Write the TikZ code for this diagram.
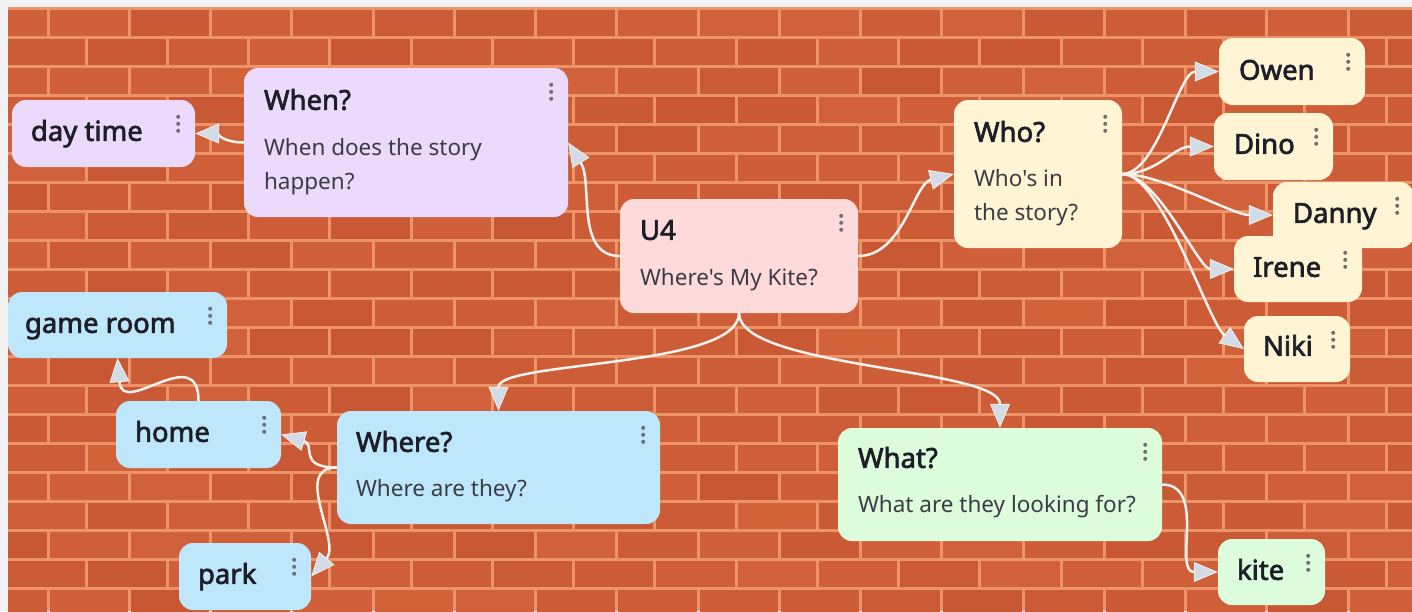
\documentclass[tikz,border=0pt]{standalone}
\usepackage{fontspec}
\setmainfont{Noto Sans}[AutoFakeBold=2.4,Ligatures=TeXOff]
\usetikzlibrary{calc,arrows.meta}

\definecolor{wallgray}{HTML}{F2F2F2}
\definecolor{mortar}{HTML}{EC9468}
\definecolor{brickA}{HTML}{D3643C}
\definecolor{brickB}{HTML}{BD4E2C}
\definecolor{lav}{HTML}{EBDAFC}
\definecolor{rose}{HTML}{FFDADA}
\definecolor{cream}{HTML}{FFF4D4}
\definecolor{sky}{HTML}{BEE7FB}
\definecolor{mint}{HTML}{DCFCDC}
\definecolor{linkcol}{HTML}{F4F1EE}
\definecolor{tipfill}{HTML}{D3DCE6}
\definecolor{ink}{HTML}{1E1E28}
\definecolor{inkgray}{HTML}{3C3C46}
\definecolor{dotcol}{HTML}{6E6E78}

\tikzset{
  card/.style={rectangle,rounded corners=14pt,inner sep=0pt},
  ttl/.style={anchor=base west,inner sep=0pt,text=ink,font=\bfseries\fontsize{27.5}{32}\selectfont},
  leaf/.style={anchor=base west,inner sep=0pt,text=ink,font=\bfseries\fontsize{27.5}{32}\selectfont},
  txt/.style={anchor=base west,inner sep=0pt,text=inkgray,font=\fontsize{22.5}{27}\selectfont},
  link/.style={draw=linkcol,line width=2.5pt,-{Triangle[length=24pt,width=20pt,fill=tipfill,line width=0.8pt]}}
}

% three dots in the top right corner of a card
\newcommand{\kebabdots}[1]{\foreach \d in {-7,0,7} \fill[dotcol] ($(#1.north east)+(-17,{24+\d})$) circle (2pt);}

\begin{document}
\begin{tikzpicture}[x=1pt,y=-1pt]
  \useasboundingbox (0,0) rectangle (1412,611);
  \fill[wallgray] (0,0) rectangle (1412,611);

  % brick wall
  \begin{scope}
    \clip (8,7) rectangle (1412,611);
    \fill[mortar] (8,7) rectangle (1412,611);
    \pgfmathsetseed{4}
    \foreach \r in {0,...,20}{
      \pgfmathsetmacro\off{ifthenelse(mod(\r,2)==0,48,86)}
      \foreach \m in {-1,...,17}{
        \pgfmathsetmacro\shade{int(45+45*rnd)}
        \fill[brickA!\shade!brickB] ({\off+81.25*\m+1.5},{8+29*\r+1.5}) rectangle ({\off+81.25*(\m+1)-1.5},{8+29*(\r+1)-1.5});
      }
    }
  \end{scope}

  % cards
  \node[card,fill=rose,minimum width=238pt,minimum height=114pt] (u4) at (739,256) {};
  \node[ttl] (u4T) at ($(u4.north west)+(20,41)$) {U4};
  \node[txt] (u4B) at ($(u4.north west)+(20,87)$) {Where's My Kite?};

  \node[card,fill=lav,minimum width=324pt,minimum height=149pt] (when) at (406,142.5) {};
  \node[ttl] (whenT) at ($(when.north west)+(20,42)$) {When?};
  \node[txt] (whenB1) at ($(when.north west)+(20,88)$) {When does the story};
  \node[txt] (whenB2) at ($(when.north west)+(20,122)$) {happen?};

  \node[card,fill=lav,minimum width=183pt,minimum height=67pt] (day) at (103.5,133.5) {};
  \node[leaf] (dayT) at ($(day.north west)+(19,41)$) {day time};

  \node[card,fill=cream,minimum width=168pt,minimum height=148pt] (who) at (1038,174) {};
  \node[ttl] (whoT) at ($(who.north west)+(20,42)$) {Who?};
  \node[txt] (whoB1) at ($(who.north west)+(20,87)$) {Who's in};
  \node[txt] (whoB2) at ($(who.north west)+(20,121)$) {the story?};

  \node[card,fill=cream,minimum width=146pt,minimum height=67pt] (owen) at (1292,71.5) {};
  \node[leaf] (owenT) at ($(owen.north west)+(20,42)$) {Owen};
  \node[card,fill=cream,minimum width=119pt,minimum height=67pt] (dino) at (1273.5,146.5) {};
  \node[leaf] (dinoT) at ($(dino.north west)+(20,41)$) {Dino};
  \node[card,fill=cream,minimum width=128pt,minimum height=66pt] (irene) at (1298,269) {};
  \node[leaf] (ireneT) at ($(irene.north west)+(19,41)$) {Irene};
  \node[card,fill=cream,minimum width=141pt,minimum height=66pt] (danny) at (1343.5,215) {};
  \node[leaf] (dannyT) at ($(danny.north west)+(20,41)$) {Danny};
  \node[card,fill=cream,minimum width=106pt,minimum height=66pt] (niki) at (1297,349) {};
  \node[leaf] (nikiT) at ($(niki.north west)+(19,40)$) {Niki};

  \node[card,fill=sky,minimum width=323pt,minimum height=113pt] (where) at (498.5,467.5) {};
  \node[ttl] (whereT) at ($(where.north west)+(19,41)$) {Where?};
  \node[txt] (whereB) at ($(where.north west)+(19,86)$) {Where are they?};

  \node[card,fill=sky,minimum width=219pt,minimum height=66pt] (game) at (117.5,325) {};
  \node[leaf] (gameT) at ($(game.north west)+(17,41)$) {game room};
  \node[card,fill=sky,minimum width=165pt,minimum height=67pt] (home) at (198.5,434.5) {};
  \node[leaf] (homeT) at ($(home.north west)+(19,41)$) {home};
  \node[card,fill=sky,minimum width=132pt,minimum height=67pt] (park) at (245,576.5) {};
  \node[leaf] (parkT) at ($(park.north west)+(19,41)$) {park};

  \node[card,fill=mint,minimum width=324pt,minimum height=113pt] (what) at (1000,484.5) {};
  \node[ttl] (whatT) at ($(what.north west)+(20,40)$) {What?};
  \node[txt] (whatB) at ($(what.north west)+(20,85)$) {What are they looking for?};
  \node[card,fill=mint,minimum width=107pt,minimum height=66pt] (kite) at (1271.5,572) {};
  \node[leaf] (kiteT) at ($(kite.north west)+(19,41)$) {kite};

  \foreach \c in {u4,when,day,who,owen,dino,irene,danny,niki,where,game,home,park,what,kite}
    \kebabdots{\c};

  % connectors
  \draw[link] (when.west) .. controls +(-20,0) and +(20,0) .. (day.east);
  \draw[link] (u4.west) .. controls +(-45,0) and +(25,40) .. (when.east);
  \draw[link] (u4.east) .. controls +(45,0) and +(-40,10) .. (who.west);
  \draw[link] (u4.south) .. controls +(0,55) and +(0,-50) .. (where.north);
  \draw[link] (u4.south) .. controls +(0,55) and +(0,-60) .. (what.north);
  \draw[link] (who.east) .. controls +(35,0) and +(-40,0) .. (owen.west);
  \draw[link] (who.east) .. controls +(35,0) and +(-40,0) .. (dino.west);
  \draw[link] (who.east) .. controls +(40,0) and +(-40,0) .. (danny.west);
  \draw[link] (who.east) .. controls +(35,0) and +(-35,0) .. (irene.west);
  \draw[link] (who.east) .. controls +(40,0) and +(-35,-25) .. (niki.west);
  \draw[link] (where.west) .. controls +(-40,0) and +(35,10) .. (home.east);
  \draw[link] (where.west) .. controls +(-45,0) and +(30,-35) .. (park.east);
  \draw[link] (home.north) .. controls +(0,-60) and +(5,60) .. (game.south);
  \draw[link] (what.east) .. controls +(45,0) and +(-45,0) .. (kite.west);
\end{tikzpicture}
\end{document}
